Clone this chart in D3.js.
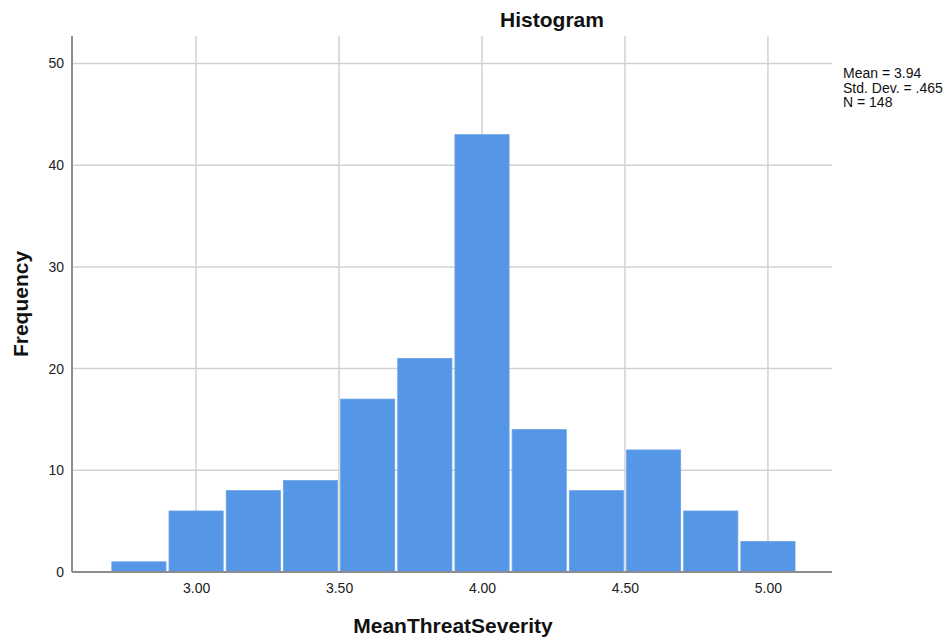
<!DOCTYPE html>
<html>
<head>
<meta charset="utf-8">
<script src="https://cdn.jsdelivr.net/npm/d3@7"></script>
<style>
  html, body { margin: 0; padding: 0; background: #fff; }
  svg { display: block; font-family: "Liberation Sans", Arial, sans-serif; }
</style>
</head>
<body>
<script>
// Histogram bins of MeanThreatSeverity (width 0.20)
const binStarts = [2.7, 2.9, 3.1, 3.3, 3.5, 3.7, 3.9, 4.1, 4.3, 4.5, 4.7, 4.9];
const binWidth = 0.2;
const counts = [1, 6, 8, 9, 17, 21, 43, 14, 8, 12, 6, 3];
const xTicks = [3.0, 3.5, 4.0, 4.5, 5.0];
const yTicks = [0, 10, 20, 30, 40, 50];
const statsLines = ["Mean = 3.94", "Std. Dev. = .465", "N = 148"];

const W = 949, H = 644;
const m = { left: 72, right: 117, top: 36, bottom: 72 };

const svg = d3.select("body").append("svg").attr("width", W).attr("height", H);

const x = d3.scaleLinear()
  .domain([2.566, 5.224])
  .range([m.left, W - m.right]);
const y = d3.scaleLinear()
  .domain([0, 52.7])
  .range([H - m.bottom, m.top]);

const grid = svg.append("g");
grid.selectAll("line.h").data(yTicks.filter(d => d > 0)).join("line")
  .attr("x1", m.left).attr("x2", W - m.right)
  .attr("y1", d => y(d)).attr("y2", d => y(d))
  .attr("stroke", "#d2d2d2").attr("stroke-width", 1.5);
grid.selectAll("line.v").data(xTicks).join("line")
  .attr("x1", d => x(d)).attr("x2", d => x(d))
  .attr("y1", m.top).attr("y2", H - m.bottom)
  .attr("stroke", "#d2d2d2").attr("stroke-width", 1.5);

// Bars
svg.append("g").selectAll("rect").data(counts).join("rect")
  .attr("x", (d, i) => x(binStarts[i]) + 1.5)
  .attr("width", (d, i) => x(binStarts[i] + binWidth) - x(binStarts[i]) - 3)
  .attr("y", d => y(d))
  .attr("height", d => y(0) - y(d))
  .attr("fill", "#5596e6")
  .attr("stroke", "#6aa3ea")
  .attr("stroke-width", 0.8);

const fontFam = "'Liberation Sans', Arial, sans-serif";

// Axes
const xAxis = svg.append("g")
  .attr("transform", `translate(0,${H - m.bottom})`)
  .call(d3.axisBottom(x).tickValues(xTicks).tickFormat(d3.format(".2f")).tickSize(0).tickPadding(11));
xAxis.select(".domain").attr("stroke", "#8c8c8c").attr("stroke-width", 2)
  .attr("d", `M${m.left},0H${W - m.right}`);
xAxis.selectAll("text").attr("font-size", 14).attr("fill", "#222").attr("font-family", fontFam);

const yAxis = svg.append("g")
  .attr("transform", `translate(${m.left},0)`)
  .call(d3.axisLeft(y).tickValues(yTicks).tickSize(0).tickPadding(8));
yAxis.select(".domain").attr("stroke", "#8c8c8c").attr("stroke-width", 2)
  .attr("d", `M0,${m.top}V${H - m.bottom}`);
yAxis.selectAll("text").attr("font-size", 14).attr("fill", "#222").attr("font-family", fontFam);

// Titles
svg.append("text").attr("x", 552).attr("y", 27)
  .attr("text-anchor", "middle").attr("font-size", 21).attr("font-weight", "bold")
  .attr("fill", "#111").text("Histogram");
svg.append("text").attr("x", 453).attr("y", 633)
  .attr("text-anchor", "middle").attr("font-size", 21).attr("font-weight", "bold")
  .attr("fill", "#111").text("MeanThreatSeverity");
svg.append("text")
  .attr("transform", `translate(28,304) rotate(-90)`)
  .attr("text-anchor", "middle").attr("font-size", 21).attr("font-weight", "bold")
  .attr("fill", "#111").text("Frequency");

// Summary statistics
svg.append("g").selectAll("text").data(statsLines).join("text")
  .attr("x", 843).attr("y", (d, i) => 78 + i * 14.7)
  .attr("font-size", 14).attr("fill", "#111").attr("font-family", fontFam).text(d => d);
</script>
</body>
</html>
